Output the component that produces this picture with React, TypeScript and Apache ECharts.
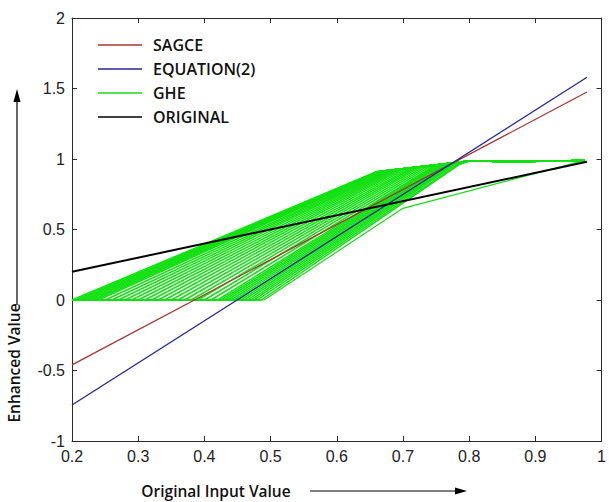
import React, { useEffect, useRef } from "react";
import * as echarts from "echarts";

// straight transfer curves: x at both ends, y at both ends
const lineX = [0.2, 0.978];
const sagceY = [-0.46, 1.475];
const equation2Y = [-0.745, 1.58];
const originalY = [0.2, 0.98];

// GHE family: each curve stays at 0 until flatEnd, rises to a knee, then follows the common tail
const gheFlatEnd = [0.2, 0.205, 0.21, 0.215, 0.22, 0.225, 0.23, 0.235, 0.24, 0.25, 0.26, 0.27, 0.28, 0.29, 0.3, 0.31, 0.32, 0.33, 0.34, 0.35, 0.36, 0.37, 0.38, 0.39, 0.4, 0.41, 0.42, 0.425, 0.43, 0.435, 0.44, 0.445, 0.45, 0.455, 0.46, 0.465, 0.47, 0.475, 0.48, 0.486];
const gheKneeX = [0.66, 0.661, 0.662, 0.663, 0.664, 0.665, 0.666, 0.667, 0.668, 0.671, 0.674, 0.677, 0.68, 0.684, 0.688, 0.692, 0.696, 0.7, 0.705, 0.71, 0.715, 0.72, 0.725, 0.73, 0.735, 0.74, 0.745, 0.748, 0.751, 0.754, 0.757, 0.76, 0.763, 0.766, 0.769, 0.772, 0.775, 0.778, 0.782, 0.785];
const gheKneeY = [0.91, 0.91, 0.911, 0.911, 0.912, 0.912, 0.913, 0.913, 0.914, 0.915, 0.916, 0.918, 0.92, 0.922, 0.924, 0.926, 0.928, 0.93, 0.932, 0.934, 0.936, 0.938, 0.94, 0.942, 0.944, 0.946, 0.948, 0.949, 0.95, 0.951, 0.952, 0.953, 0.954, 0.955, 0.956, 0.957, 0.958, 0.958, 0.959, 0.96];
const gheTailX = [0.8, 0.88, 0.975];
const gheTailY = [0.985, 0.982, 0.99];
const gheOutlierX = [0.2, 0.49, 0.7, 0.975];
const gheOutlierY = [0, 0, 0.65, 0.99];

const legendNames = ["SAGCE", "EQUATION(2)", "GHE", "ORIGINAL"];
const xMin = 0.2, xMax = 1, xStep = 0.1;
const yMin = -1, yMax = 2, yStep = 0.5;

const GREEN = "#12e012";
const RED = "#a83232";
const BLUE = "#26269a";
const BLACK = "#000000";

const pairs = (xs: number[], ys: number[]) => xs.map((x, i) => [x, ys[i]]);

export default function App() {
  const ref = useRef<HTMLDivElement>(null);
  useEffect(() => {
    if (!ref.current) return;
    const chart = echarts.init(ref.current, null, { renderer: "svg" });
    const lineBase = { type: "line", symbol: "none", silent: true, xAxisIndex: 0, yAxisIndex: 0 };
    const gheSeries: any[] = gheFlatEnd.map((a, i) => ({
      ...lineBase,
      name: "GHE",
      data: [[0.2, 0], [a, 0], [gheKneeX[i], gheKneeY[i]], ...pairs(gheTailX, gheTailY)],
      lineStyle: { color: GREEN, width: 1.5 },
      itemStyle: { color: GREEN },
    }));
    gheSeries.push({
      ...lineBase,
      name: "GHE",
      data: pairs(gheOutlierX, gheOutlierY),
      lineStyle: { color: GREEN, width: 1.2 },
      itemStyle: { color: GREEN },
    });
    const fmt = (v: number) => String(Math.round(v * 10) / 10);
    const axisCommon = {
      type: "value",
      splitLine: { show: false },
      axisLine: { show: true, onZero: false, lineStyle: { color: "#2a2a2a", width: 1 } },
      axisTick: { show: true, inside: true, length: 5, lineStyle: { color: "#2a2a2a" } },
    };
    const labelStyle = { color: "#222", fontFamily: "'Liberation Sans', Arial, sans-serif", fontSize: 16 };
    chart.setOption({
      animation: false,
      grid: { left: 72, right: 2, top: 18, bottom: 61, containLabel: false },
      legend: {
        data: legendNames.map((n) => ({ name: n, icon: "rect" })),
        orient: "vertical",
        left: 98,
        top: 37,
        padding: 0,
        itemWidth: 44,
        itemHeight: 1.6,
        itemGap: 8,
        selectedMode: false,
        textStyle: { fontFamily: "'Open Sans', sans-serif", fontWeight: 600, fontSize: 16, lineHeight: 16, color: "#111", padding: [0, 0, 0, 6] },
      },
      xAxis: [
        { ...axisCommon, min: xMin, max: xMax, interval: xStep, position: "bottom",
          axisLabel: { ...labelStyle, margin: 7, formatter: fmt } },
        { ...axisCommon, min: xMin, max: xMax, interval: xStep, position: "top", axisLabel: { show: false } },
      ],
      yAxis: [
        { ...axisCommon, min: yMin, max: yMax, interval: yStep, position: "left",
          axisLabel: { ...labelStyle, margin: 7, formatter: fmt } },
        { ...axisCommon, min: yMin, max: yMax, interval: yStep, position: "right", axisLabel: { show: false } },
      ],
      series: [
        ...gheSeries,
        { ...lineBase, name: "SAGCE", data: pairs(lineX, sagceY), lineStyle: { color: RED, width: 1.3 }, itemStyle: { color: RED } },
        { ...lineBase, name: "EQUATION(2)", data: pairs(lineX, equation2Y), lineStyle: { color: BLUE, width: 1.3 }, itemStyle: { color: BLUE } },
        { ...lineBase, name: "ORIGINAL", data: pairs(lineX, originalY), lineStyle: { color: BLACK, width: 2 }, itemStyle: { color: BLACK } },
      ],
      graphic: [
        { type: "text", x: 14, y: 363, rotation: Math.PI / 2,
          style: { text: "Enhanced Value", fontFamily: "'Open Sans', sans-serif", fontWeight: 600, fontSize: 15.5, fill: "#111", align: "center", verticalAlign: "middle" } },
        { type: "line", shape: { x1: 17, y1: 305, x2: 17, y2: 100 }, style: { stroke: "#000", lineWidth: 1.2 } },
        { type: "polygon", shape: { points: [[17, 89], [13.5, 102], [20.5, 102]] }, style: { fill: "#000" } },
        { type: "text", x: 216, y: 491,
          style: { text: "Original Input Value", fontFamily: "'Open Sans', sans-serif", fontWeight: 600, fontSize: 15.5, fill: "#111", align: "center", verticalAlign: "middle" } },
        { type: "line", shape: { x1: 310, y1: 491, x2: 456, y2: 491 }, style: { stroke: "#000", lineWidth: 1.2 } },
        { type: "polygon", shape: { points: [[467, 491], [455, 487.5], [455, 494.5]] }, style: { fill: "#000" } },
      ],
    });
    return () => chart.dispose();
  }, []);
  return <div ref={ref} style={{ position: "fixed", left: 0, top: 0, width: 609, height: 502, background: "#fff" }} />;
}
